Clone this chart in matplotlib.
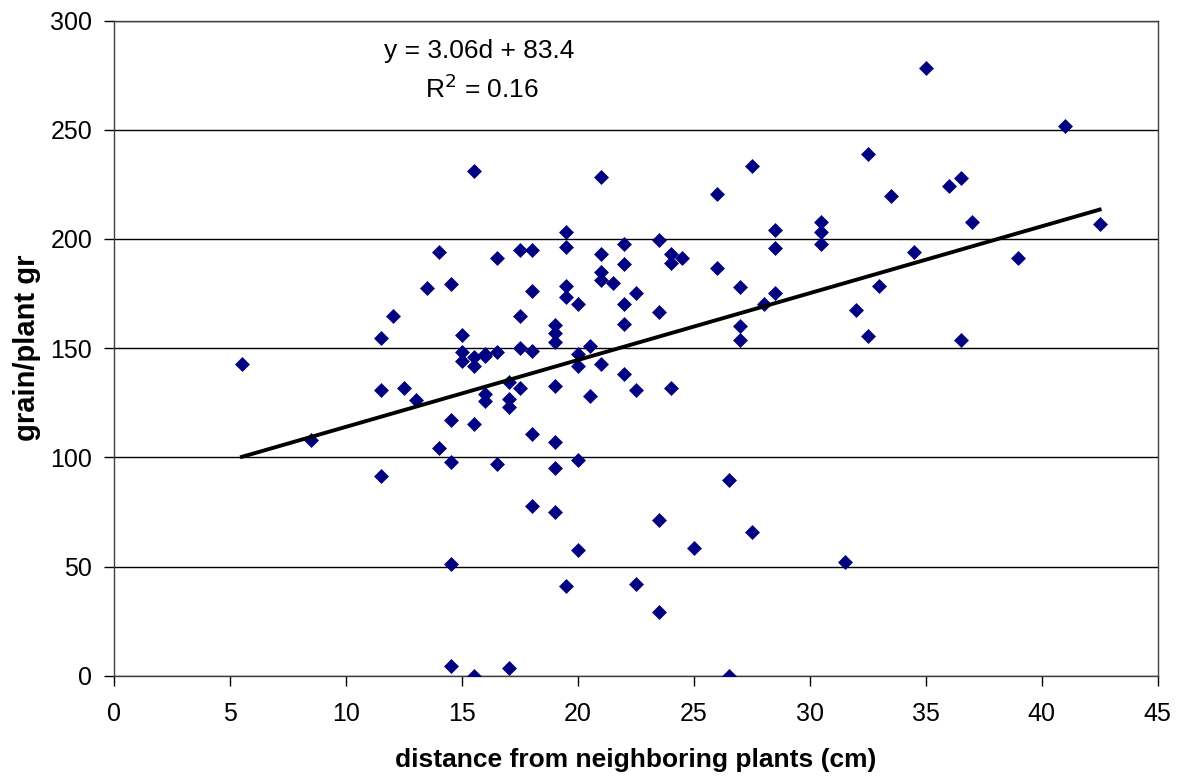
import numpy as np
import matplotlib.pyplot as plt

plt.rcParams['font.family'] = ['Liberation Sans', 'DejaVu Sans']

# distance (cm) and grain per plant (gr)
dist = [5.5, 8.5, 11.5, 11.5, 11.5, 12, 12.5, 13, 13.5, 14, 14,
        14.5, 14.5, 14.5, 14.5, 14.5, 15, 15, 15,
        15.5, 15.5, 15.5, 15.5, 15.5, 16, 16, 16, 16,
        16.5, 16.5, 16.5, 17, 17, 17, 17,
        17.5, 17.5, 17.5, 17.5, 18, 18, 18, 18, 18,
        19, 19, 19, 19, 19, 19, 19, 19.5, 19.5, 19.5, 19.5, 19.5,
        20, 20, 20, 20, 20, 20.5, 20.5,
        21, 21, 21, 21, 21, 21.5, 22, 22, 22, 22, 22,
        22.5, 22.5, 22.5, 23.5, 23.5, 23.5, 23.5, 24, 24, 24, 24.5, 25,
        26, 26, 26.5, 26.5, 27, 27, 27, 27.5, 27.5, 28,
        28.5, 28.5, 28.5, 30.5, 30.5, 30.5, 31.5, 32, 32.5, 32.5, 33,
        33.5, 34.5, 35, 36, 36.5, 36.5, 37, 39, 41, 42.5]
grain = [142.6, 108, 154.5, 130.9, 91.5, 164.8, 131.6, 126.3, 177.5, 194, 104.2,
         179.3, 117.1, 97.8, 51, 4.4, 156.2, 148.4, 144.3,
         231.3, 145.8, 141.9, 115.2, 0, 147.4, 146.4, 129.2, 126,
         191.2, 148.4, 96.8, 134.7, 126.8, 123.2, 3.4,
         195, 164.8, 150, 131.6, 195, 176.4, 148.9, 110.7, 77.7,
         160.7, 156.8, 153, 132.7, 106.9, 95, 74.9, 203, 196.5, 178.5, 173.6, 41.1,
         170.1, 147.4, 141.9, 98.8, 57.6, 151, 128.1,
         228.6, 193, 185, 181.3, 142.8, 180, 197.6, 188.5, 170.1, 161, 138.2,
         175.4, 130.9, 42, 199.6, 166.5, 71.3, 29, 193.2, 189.2, 131.6, 191.2, 58.4,
         220.5, 186.6, 89.6, 0, 178.2, 160.2, 153.8, 233.5, 66, 170.3,
         204.2, 195.8, 175.4, 208, 203.1, 197.6, 52.2, 167.5, 238.8, 155.6, 178.5,
         219.7, 194, 278.2, 224.3, 227.8, 153.8, 208, 191.2, 251.8, 206.9]

slope = 3.06
intercept = 83.4

fig = plt.figure(figsize=(11.8, 7.78), dpi=100)
ax = fig.add_axes([0.097, 0.1315, 0.884, 0.842])

ax.scatter(dist, grain, marker='D', s=58, color='#000080', zorder=3, linewidths=0)

# trend line over the data range
xl = np.array([min(dist), max(dist)])
ax.plot(xl, slope * xl + intercept, color='black', lw=2.8, zorder=4)

ax.set_xlim(0, 45)
ax.set_ylim(0, 300)
ax.set_xticks(range(0, 46, 5))
ax.set_yticks(range(0, 301, 50))
ax.yaxis.grid(True, color='black', lw=1.0)
ax.set_axisbelow(True)
for sp in ax.spines.values():
    sp.set_color('#404040')
    sp.set_linewidth(1.0)
ax.tick_params(direction='out', length=7, width=1.0, labelsize=18)
ax.tick_params(axis='y', pad=9)
ax.tick_params(axis='x', pad=12)

ax.set_xlabel("distance from neighboring plants (cm)", fontsize=19, fontweight='bold', labelpad=16)
ax.set_ylabel("grain/plant gr", fontsize=21, fontweight='bold', labelpad=7)

ax.text(0.35, 0.953, "y = 3.06d + 83.4", transform=ax.transAxes,
        ha='center', va='center', fontsize=19)
ax.text(0.352, 0.896, "R$^2$ = 0.16", transform=ax.transAxes,
        ha='center', va='center', fontsize=19)

fig.savefig("out.png", dpi=100)
